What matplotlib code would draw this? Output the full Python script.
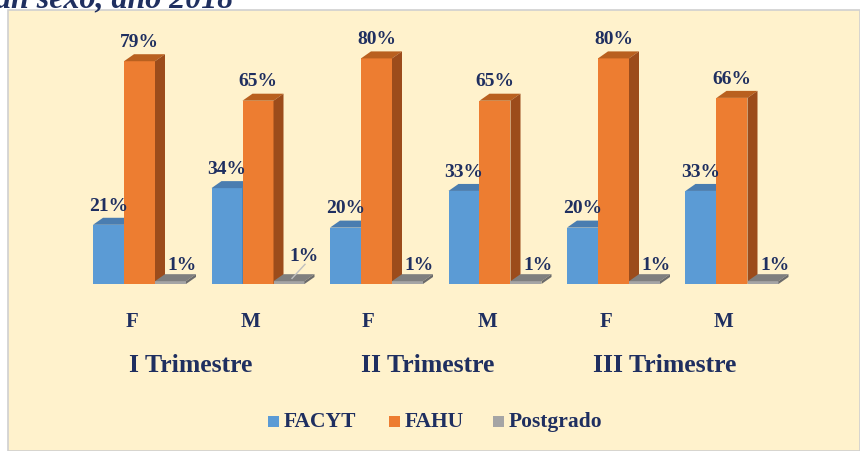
import matplotlib.pyplot as plt
from matplotlib.patches import Polygon, Rectangle

sexo = ["F", "M", "F", "M", "F", "M"]
trimestres = ["I Trimestre", "II Trimestre", "III Trimestre"]
facyt = [21, 34, 20, 33, 20, 33]
fahu = [79, 65, 80, 65, 80, 66]
postgrado = [1, 1, 1, 1, 1, 1]

series = [("FACYT", facyt, "#5B9BD5", "#4A7DB0", "#41719C"),
          ("FAHU", fahu, "#ED7D31", "#B9601F", "#9C4C1B"),
          ("Postgrado", postgrado, "#A5A5A5", "#7F7F7F", "#6B6B6B")]

navy = "#1F2F60"
font = "Liberation Serif"

W, H = 860, 452
fig = plt.figure(figsize=(W / 100, H / 100), dpi=100)
fig.patch.set_facecolor("white")

# panel background
fig.patches.append(Rectangle((8 / W, 0), 1 - 8 / W, (H - 11) / H, transform=fig.transFigure,
                             facecolor="#FFF2CC", edgecolor="#D0D0D0", lw=1.2, zorder=-5))

# title, cut off at the top of the image
fig.text(-5 / W, (H - 7) / H, "an sexo, año 2018", fontsize=23, fontweight="bold",
         fontstyle="italic", color=navy, family=font, va="baseline", ha="left")

px_x = 118.5           # px per category
px_y = 2.82            # px per percent
x0 = 139.5             # px of first category center
base = 285             # px of baseline from top

ax = fig.add_axes([0, (H - base) / H, 1, 100 * px_y / H])
ax.set_xlim(-x0 / px_x, (W - x0) / px_x)
ax.set_ylim(0, 100)
ax.axis("off")
ax.set_zorder(2)

bw = 31 / px_x
dx = 10 / px_x
dy = 7 / px_y

for k, (name, vals, c_front, c_top, c_side) in enumerate(series):
    for i, v in enumerate(vals):
        left = i + (k - 1.5) * bw
        ax.add_patch(Rectangle((left, 0), bw, v, facecolor=c_front, edgecolor="none", zorder=3 + k))
        ax.add_patch(Polygon([(left, v), (left + dx, v + dy), (left + bw + dx, v + dy), (left + bw, v)],
                             closed=True, facecolor=c_top, edgecolor="none", zorder=3 + k))
        ax.add_patch(Polygon([(left + bw, 0), (left + bw + dx, dy), (left + bw + dx, v + dy), (left + bw, v)],
                             closed=True, facecolor=c_side, edgecolor="none", zorder=3 + k))
        lx = left + bw / 2
        ly = v + dy + 1.5
        if name == "Postgrado":
            lx = left + bw / 2 + 12 / px_x
            ly = v + dy + 0.5
            if i == 1:
                ax.plot([left + bw / 2 + 3 / px_x, left + bw / 2 + 16 / px_x],
                        [v + dy - 1.5, v + dy + 3.5], color="#BFBFBF", lw=1, zorder=8)
                lx = left + bw / 2 + 15 / px_x
                ly = v + dy + 3.5
        ax.text(lx, ly, f"{v}%", ha="center", va="bottom", fontsize=14, fontweight="bold",
                color=navy, family=font, zorder=10)

# category labels
for i, s in enumerate(sexo):
    fig.text((x0 + i * px_x - 8) / W, (H - 322) / H, s, ha="center", va="center", fontsize=15,
             fontweight="bold", color=navy, family=font)
for j, t in enumerate(trimestres):
    cx = x0 + (2 * j + 0.5) * px_x - 8
    fig.text(cx / W, (H - 366) / H, t, ha="center", va="center", fontsize=18.5,
             fontweight="bold", color=navy, family=font)

# legend
leg_x = [268, 389, 493]
for (name, vals, c_front, c_top, c_side), lxp in zip(series, leg_x):
    fig.patches.append(Rectangle((lxp / W, (H - 428) / H), 11 / W, 11 / H, transform=fig.transFigure,
                                 facecolor=c_front, edgecolor="none"))
    fig.text((lxp + 16) / W, (H - 422) / H, name, ha="left", va="center", fontsize=15.5,
             fontweight="bold", color=navy, family=font)

fig.savefig("out.png", dpi=100)
